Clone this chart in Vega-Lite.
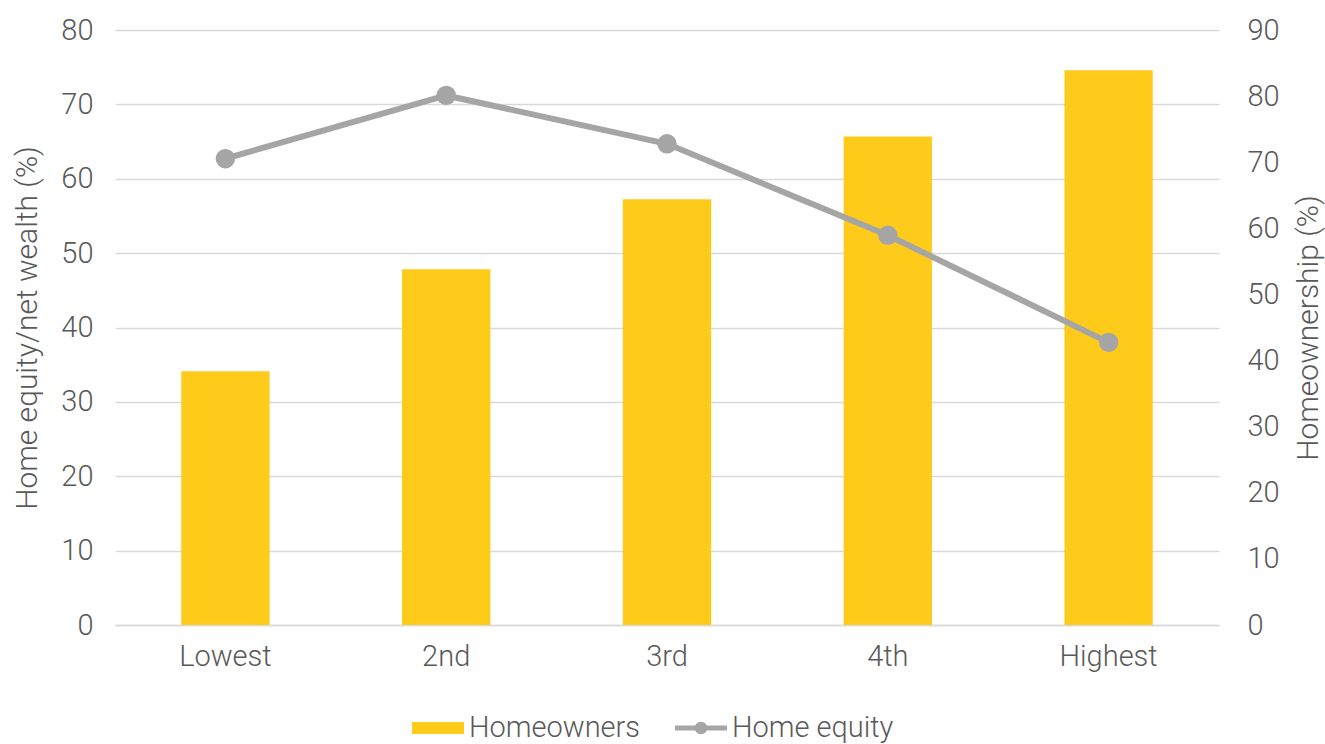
{
  "$schema": "https://vega.github.io/schema/vega-lite/v6.json",
  "width": 1104,
  "height": 595,
  "autosize": {"type": "none"},
  "padding": {"left": 115, "top": 30, "right": 106, "bottom": 119},
  "background": "white",
  "config": {
    "view": {"stroke": null},
    "font": "Roboto",
    "axis": {
      "labelFont": "Roboto",
      "labelFontWeight": 300,
      "labelFontSize": 29,
      "labelColor": "#595959",
      "titleFont": "Roboto",
      "titleFontWeight": 300,
      "titleFontSize": 30,
      "titleColor": "#595959",
      "ticks": false,
      "domain": false
    },
    "legend": {
      "labelFont": "Roboto",
      "labelFontWeight": 300,
      "labelFontSize": 29,
      "labelColor": "#595959",
      "labelLimit": 400
    }
  },
  "data": {
    "values": [
      {"quintile": "Lowest", "homeowners": 38.4, "equity": 62.7},
      {"quintile": "2nd", "homeowners": 53.8, "equity": 71.2},
      {"quintile": "3rd", "homeowners": 64.4, "equity": 64.7},
      {"quintile": "4th", "homeowners": 73.9, "equity": 52.4},
      {"quintile": "Highest", "homeowners": 83.9, "equity": 38.0}
    ]
  },
  "encoding": {
    "x": {
      "field": "quintile",
      "type": "nominal",
      "sort": null,
      "scale": {"paddingInner": 0.6, "paddingOuter": 0.3},
      "axis": {
        "title": null,
        "labelAngle": 0,
        "labelPadding": 17,
        "domain": true,
        "domainColor": "#D9D9D9",
        "domainWidth": 1.5
      }
    }
  },
  "layer": [
    {
      "mark": {"type": "bar"},
      "encoding": {
        "y": {
          "field": "homeowners",
          "type": "quantitative",
          "scale": {"domain": [0, 90], "nice": false},
          "axis": {
            "orient": "right",
            "title": "Homeownership (%)",
            "values": [0, 10, 20, 30, 40, 50, 60, 70, 80, 90],
            "grid": false,
            "labelPadding": 28,
            "titleAngle": -90,
            "titleBaseline": "top",
            "titlePadding": 14
          }
        },
        "color": {
          "datum": "Homeowners",
          "type": "nominal",
          "scale": {"domain": ["Homeowners", "Home equity"], "range": ["#FFCB1A", "#A5A5A5"]},
          "legend": {
            "title": null,
            "orient": "none",
            "direction": "horizontal",
            "legendX": 297,
            "legendY": 672,
            "columnPadding": 34,
            "labelOffset": 5,
            "labelLimit": 400,
            "symbolSize": 2704,
            "encode": {
              "symbols": {
                "update": {
                  "shape": {"signal": "datum.value === 'Homeowners' ? 'M-1,-0.23H1V0.23H-1Z' : 'M-1,-0.1H1V0.1H-1Z M0.24,0 A0.24,0.24 0 1 1 -0.24,0 A0.24,0.24 0 1 1 0.24,0Z'"},
                  "fill": {"signal": "scale('color', datum.value)"},
                  "stroke": {"value": "transparent"},
                  "strokeWidth": {"value": 0},
                  "size": {"value": 2704},
                  "opacity": {"value": 1}
                }
              }
            }
          }
        }
      }
    },
    {
      "mark": {
        "type": "line",
        "strokeWidth": 6,
        "point": {"filled": true, "size": 380}
      },
      "encoding": {
        "y": {
          "field": "equity",
          "type": "quantitative",
          "scale": {"domain": [0, 80], "nice": false},
          "axis": {
            "orient": "left",
            "title": "Home equity/net wealth (%)",
            "values": [0, 10, 20, 30, 40, 50, 60, 70, 80],
            "grid": true,
            "gridColor": "#D9D9D9",
            "gridWidth": 1.5,
            "labelPadding": 22,
            "titlePadding": 18
          }
        },
        "color": {"datum": "Home equity", "type": "nominal"}
      }
    }
  ],
  "resolve": {"scale": {"y": "independent"}}
}
